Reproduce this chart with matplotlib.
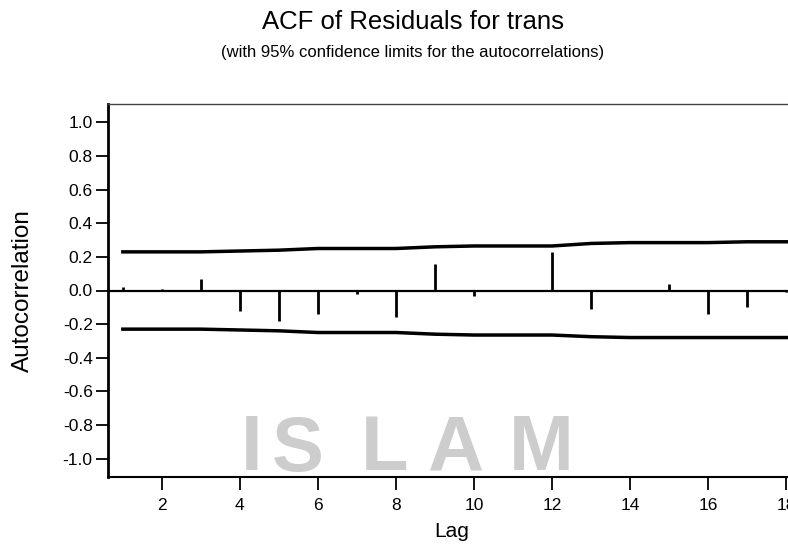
import numpy as np
import matplotlib.pyplot as plt

plt.rcParams['font.family'] = ['Liberation Sans', 'DejaVu Sans']

# values
lags = np.arange(1, 19)
acf = [0.02, 0.01, 0.07, -0.12, -0.18, -0.14, -0.02, -0.16, 0.16,
       -0.03, 0.0, 0.23, -0.11, 0.0, 0.04, -0.14, -0.10, -0.01]
upper = [0.23, 0.23, 0.23, 0.235, 0.24, 0.25, 0.25, 0.25, 0.26,
         0.265, 0.265, 0.265, 0.28, 0.285, 0.285, 0.285, 0.29, 0.29]
lower = [-0.23, -0.23, -0.23, -0.235, -0.24, -0.25, -0.25, -0.25, -0.26,
         -0.265, -0.265, -0.265, -0.275, -0.28, -0.28, -0.28, -0.28, -0.28]
xticks = [2, 4, 6, 8, 10, 12, 14, 16, 18]
yticks = [-1.0, -0.8, -0.6, -0.4, -0.2, 0.0, 0.2, 0.4, 0.6, 0.8, 1.0]

fig = plt.figure(figsize=(7.88, 5.46), dpi=100)

# faint watermark letters behind the plot
wm = '#cdcdcd'
for ch, xp in zip('ISLAM', [252, 298, 385, 455, 541]):
    fig.text(xp / 788, 1 - 450 / 546, ch, fontsize=56, fontweight='bold',
             color=wm, ha='center', va='center', zorder=0)

ax = fig.add_axes([108 / 788, 1 - 477 / 546, 690 / 788, 373 / 546])
ax.patch.set_alpha(0)

ax.axhline(0, color='k', lw=1.6)
ax.vlines(lags, 0, acf, color='k', lw=2)
ax.plot(lags, upper, color='k', lw=2.5)
ax.plot(lags, lower, color='k', lw=2.5)

ax.set_xlim(0.62, 18.3)
ax.set_ylim(-1.11, 1.11)
ax.set_xticks(xticks)
ax.set_yticks(yticks)
ax.set_yticklabels(['%.1f' % v for v in yticks])

ax.tick_params(axis='both', direction='out', length=9, width=1.3,
               labelsize=12.5)
ax.tick_params(axis='x', pad=6)
ax.tick_params(axis='y', pad=2)

ax.spines['left'].set_linewidth(2)
ax.spines['bottom'].set_linewidth(1.5)
ax.spines['top'].set_linewidth(1)
ax.spines['top'].set_color('#444444')
ax.spines['right'].set_visible(False)

ax.set_xlabel('Lag', fontsize=15)
ax.set_ylabel('Autocorrelation', fontsize=17.5)
ax.xaxis.set_label_coords((452 - 108) / 690, -(522 - 477) / 373)
ax.yaxis.set_label_coords(-(108 - 34) / 690, 0.5)

fig.text(413 / 788, 1 - 22 / 546, 'ACF of Residuals for trans',
         fontsize=18.5, ha='center', va='center')
fig.text(413 / 788, 1 - 52 / 546,
         '(with 95% confidence limits for the autocorrelations)',
         fontsize=12, ha='center', va='center')

fig.savefig('out.png', dpi=100)
